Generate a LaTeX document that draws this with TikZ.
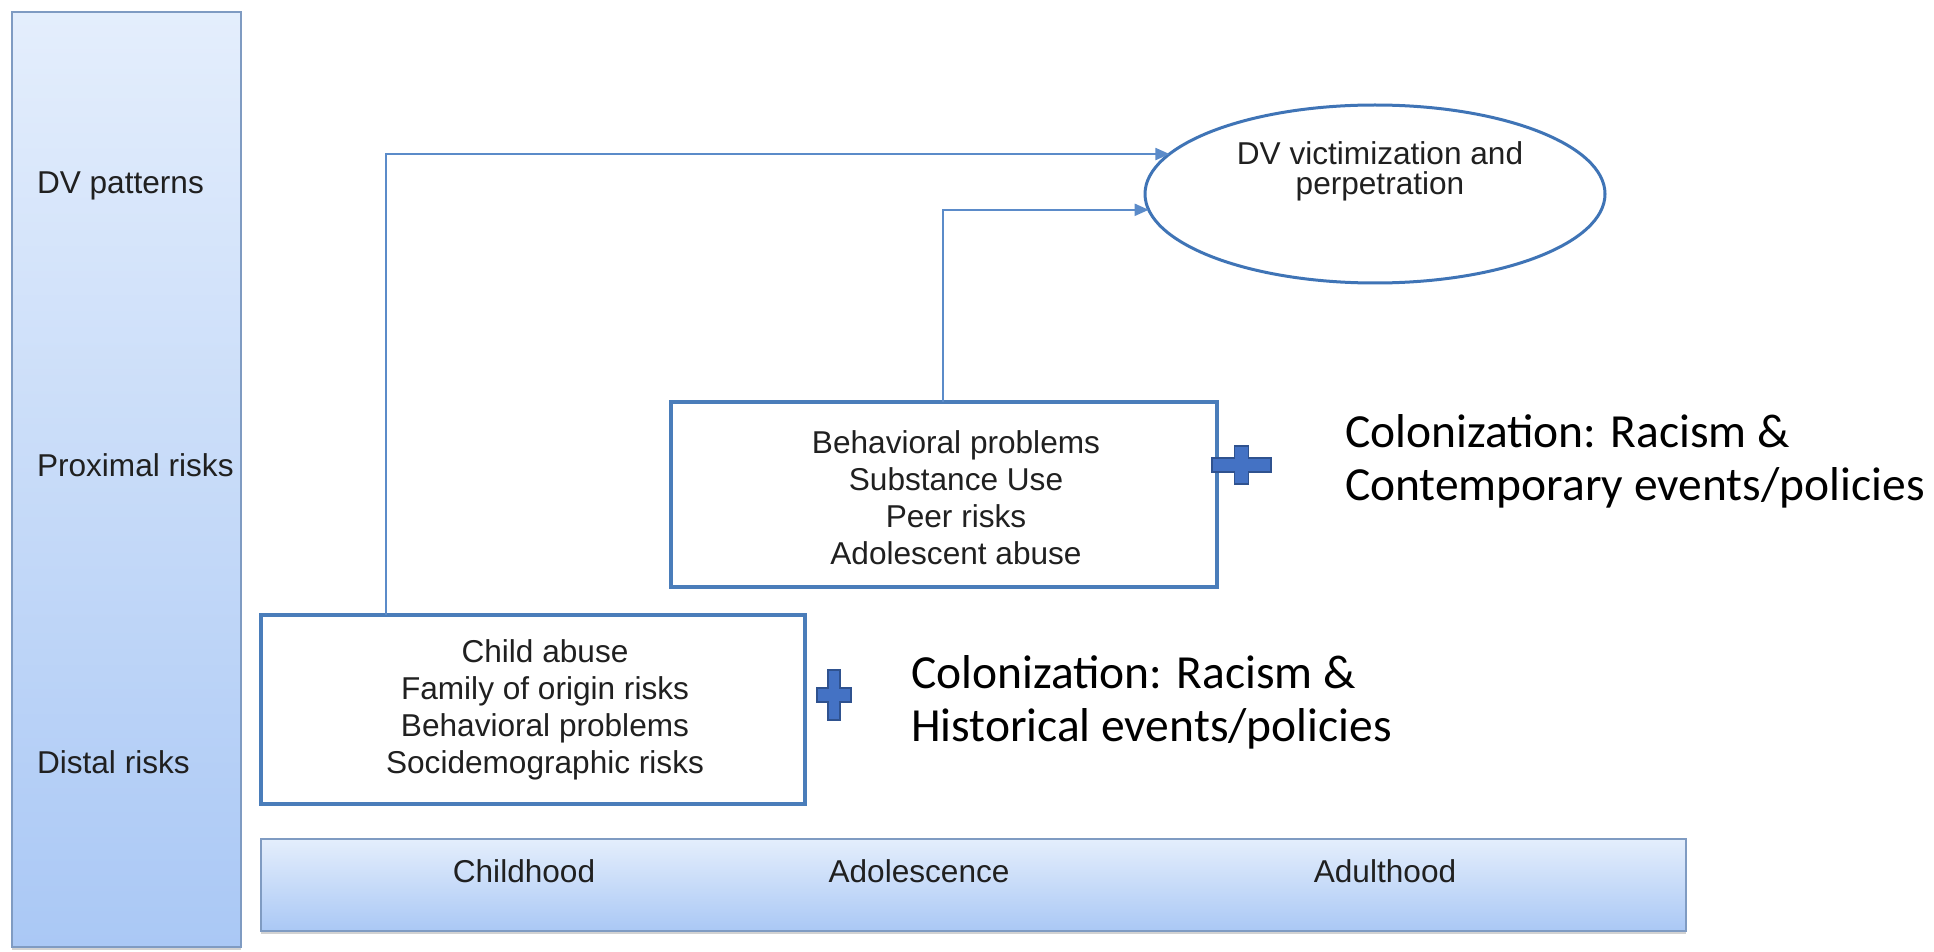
\documentclass[tikz,border=0pt]{standalone}
\usepackage{fontspec}
\setmainfont{Liberation Sans}
\newfontfamily\calibri{Carlito}
\usetikzlibrary{shapes.geometric,arrows.meta,shadows}

\definecolor{barTop}{HTML}{E4EEFC}
\definecolor{barBot}{HTML}{AAC8F5}
\definecolor{barEdge}{HTML}{7F9BC2}
\definecolor{boxEdge}{HTML}{4A7DBA}
\definecolor{arrowC}{HTML}{5B8BC9}
\definecolor{ovalEdge}{HTML}{3F74B6}
\definecolor{plusFill}{HTML}{4472C4}
\definecolor{plusEdge}{HTML}{2F528F}
\definecolor{labelC}{HTML}{202020}

% cross: centre x, centre y, half arm width, half arm height, half stem width, half bar height
\newcommand{\crossat}[6]{%
  \draw[cross] (#1-#5,#2-#4) -- (#1+#5,#2-#4) -- (#1+#5,#2-#6) -- (#1+#3,#2-#6)
    -- (#1+#3,#2+#6) -- (#1+#5,#2+#6) -- (#1+#5,#2+#4) -- (#1-#5,#2+#4)
    -- (#1-#5,#2+#6) -- (#1-#3,#2+#6) -- (#1-#3,#2-#6) -- (#1-#5,#2-#6) -- cycle;}

\begin{document}
\begin{tikzpicture}[x=0.5pt,y=-0.5pt,
  every node/.style={inner sep=0pt,outer sep=0pt},
  band/.style={draw=barEdge,line width=1pt,top color=barTop,bottom color=barBot,
    drop shadow={shadow xshift=0pt,shadow yshift=-1.5pt,opacity=0.35}},
  riskbox/.style={draw=boxEdge,line width=2pt,fill=white},
  oval/.style={ellipse,draw=ovalEdge,line width=1.5pt,fill=white},
  conn/.style={draw=arrowC,line width=1pt,-{Triangle[length=7pt,width=6pt]}},
  lbl/.style={font=\fontsize{15.8}{18.5}\selectfont,text=labelC},
  boxtext/.style={lbl,align=center},
  colon/.style={font=\calibri\fontsize{23.75}{26.5}\selectfont,align=left,anchor=west,text=black},
  cross/.style={fill=plusFill,draw=plusEdge,line width=0.8pt}]

\useasboundingbox[fill=white] (0,0) rectangle (1934,952);

% stage column and time axis
\node[band,minimum width=114.5pt,minimum height=467.5pt] (stages) at (126.5,479.5) {};
\node[band,minimum width=712.5pt,minimum height=46pt] (time) at (973.5,885) {};

\node[lbl,anchor=west] (lp) at (37,186) {DV patterns};
\node[lbl,anchor=west] (lx) at (37,465) {Proximal risks};
\node[lbl,anchor=west] (ld) at (37,762) {Distal risks};

\node[lbl] (tc) at (524,871) {Childhood};
\node[lbl] (ta) at (919,871) {Adolescence};
\node[lbl] (tu) at (1385,871) {Adulthood};

% risk boxes
\node[riskbox,minimum width=272pt,minimum height=94.5pt] (distal) at (533,709.5) {};
\node[boxtext] (distaltxt) at (545,710) {Child abuse\\Family of origin risks\\Behavioral problems\\Socidemographic risks};

\node[riskbox,minimum width=273pt,minimum height=92.5pt] (prox) at (944,494.5) {};
\node[boxtext] (proxtxt) at (956,498) {Behavioral problems\\Substance Use\\Peer risks\\Adolescent abuse};

% outcome
\node[oval,minimum width=230pt,minimum height=89pt] (dv) at (1375,194) {};
\node[lbl,align=center,font=\fontsize{15.8}{15}\selectfont] (dvtxt) at (1380,171) {DV victimization and\\perpetration};

% pathways
\draw[conn] ([xshift=-73.5pt]distal.north) |- (dv.169.97);
\draw[conn] ([xshift=-0.5pt]prox.north) |- (dv.184.57);

% contextual factors
\crossat{834}{695}{17}{25}{6}{7}
\crossat{1241.5}{465}{29.5}{19}{7}{7}

\node[colon] (hist) at (911,702) {Colonization: Racism \&\\Historical events/policies};
\node[colon] (cont) at (1345,461) {Colonization: Racism \&\\Contemporary events/policies};
\end{tikzpicture}
\end{document}
